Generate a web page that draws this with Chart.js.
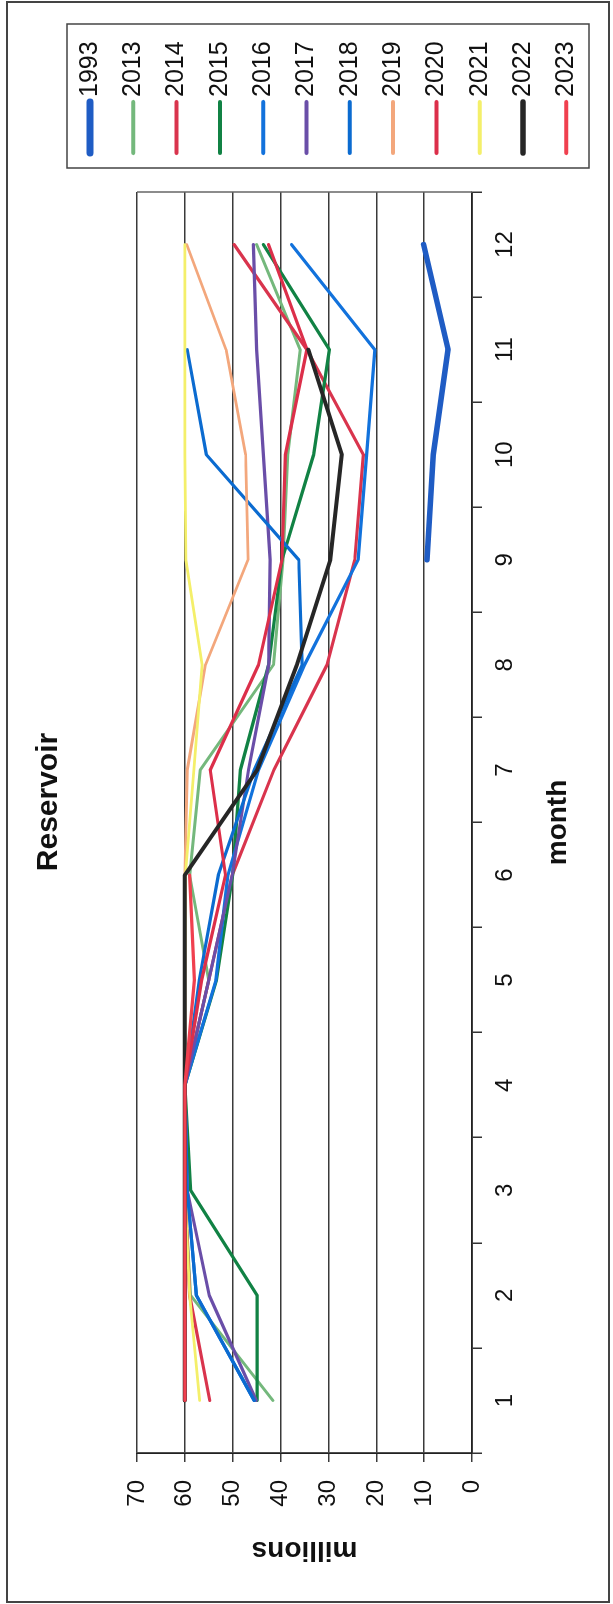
<!DOCTYPE html>
<html>
<head>
<meta charset="utf-8">
<title>Reservoir</title>
<script src="https://cdn.jsdelivr.net/npm/chart.js@4.4.1/dist/chart.umd.min.js"></script>
<style>
    html, body { margin: 0; padding: 0; background: #fff; overflow: hidden; }
    /* the chart is drawn landscape and turned a quarter turn to the left */
    #wrap {
        position: absolute; left: 0; top: 0;
        width: 1604px; height: 613px;
        transform-origin: 0 0;
        transform: translateY(1604px) rotate(-90deg);
    }
    canvas { display: block; }
</style>
</head>
<body>
<div id="wrap"><canvas id="reservoirChart" width="1604" height="613"></canvas></div>
<script>
// data (millions, by month)
const months = ['1', '2', '3', '4', '5', '6', '7', '8', '9', '10', '11', '12'];
const years = ['1993', '2013', '2014', '2015', '2016', '2017', '2018', '2019', '2020', '2021', '2022', '2023'];

const s1993 = [null, null, null, null, null, null, null, null, 9.4, 8.1, 5.0, 10.1];
const s2013 = [41.6, 58.8, 60, 60, 55, 59, 56.8, 41.5, 39.5, 38.5, 35.9, 45];
const s2014 = [54.8, 59, 60, 60, 55, 50.1, 41.4, 30.3, 24.5, 22.7, 34.5, 49.7];
const s2015 = [44.9, 44.9, 58.8, 60, 53.4, 50, 48.4, 42.5, 39.7, 33.1, 29.8, 43.6];
const s2016 = [45.5, 57.6, 59.5, 60, 53.5, 51, 44.6, 35, 23.8, 22, 20.3, 37.7];
const s2017 = [45.1, 54.9, 59.5, 60, 55, 50.1, 46.7, 42.5, 42.2, 43.6, 45, 45.7];
const s2018 = [45.5, 57.6, 59.5, 60, 57, 53, 45.5, 35.5, 36.2, 55.5, 59.5, null];
const s2019 = [60, 60, 60, 60, 60, 60, 59.5, 55.7, 46.8, 47.3, 51.4, 59.6];
const s2020 = [60, 60, 60, 60, 56.5, 51.5, 54.7, 44.6, 39.7, 39, 34.5, 42.5];
const s2021 = [56.9, 59, 60, 60, 60, 59.9, 58.1, 56.4, 59.8, 60, 60, 60];
const s2022 = [60, 60, 60, 60, 60, 60, 44.9, 36.6, 29.6, 27.2, 34.2, null];
const s2023 = [60, 60, 60, 60, 58, 59, null, null, null, null, null, null];

const seriesValues = [s1993, s2013, s2014, s2015, s2016, s2017, s2018, s2019, s2020, s2021, s2022, s2023];

const valueMin = 0;
const valueMax = 70;
const valueStep = 10;

// styles
const lineColors = ['#1f5cc4', '#74b87c', '#d9344d', '#118244', '#1272dc', '#6a4ea8',
                    '#0b6bd0', '#f3a77c', '#dc2f4a', '#f4ef6a', '#262626', '#f0404f'];
const lineWidths = [5.5, 3, 3.2, 3.2, 3.2, 3.2, 3.2, 2.8, 3.2, 2.8, 4, 3.2];
const legendWidths = [7, 4, 4, 4, 4, 4, 4, 4, 4, 4, 5.5, 4];

const FONT = '"Liberation Sans", Arial, sans-serif';
Chart.defaults.font.family = FONT;
Chart.defaults.color = '#111';

// white page, outer frame and the right edge of the plot
const framePlugin = {
    id: 'frame',
    beforeDraw(chart) {
        const ctx = chart.ctx;
        ctx.save();
        ctx.fillStyle = '#fff';
        ctx.fillRect(0, 0, chart.width, chart.height);
        ctx.strokeStyle = '#444';
        ctx.lineWidth = 2;
        ctx.strokeRect(2, 7, chart.width - 4, chart.height - 11);
        ctx.restore();
    },
    beforeDatasetsDraw(chart) {
        const { ctx, chartArea } = chart;
        ctx.save();
        ctx.strokeStyle = '#666';
        ctx.lineWidth = 1.5;
        ctx.beginPath();
        ctx.moveTo(chartArea.right, chartArea.top);
        ctx.lineTo(chartArea.right, chartArea.bottom);
        ctx.stroke();
        ctx.restore();
    }
};

// boxed legend on the right, like the spreadsheet one
const boxLegendPlugin = {
    id: 'boxLegend',
    afterDraw(chart) {
        const ctx = chart.ctx;
        const left = chart.chartArea.right + 24;
        const right = chart.width - 24;
        const top = 67, bottom = 589;
        const first = 90, step = 43.3;
        ctx.save();
        ctx.strokeStyle = '#444';
        ctx.lineWidth = 1.5;
        ctx.strokeRect(left, top, right - left, bottom - top);
        ctx.font = '25px ' + FONT;
        ctx.textAlign = 'left';
        ctx.textBaseline = 'middle';
        chart.data.datasets.forEach((ds, i) => {
            const y = first + step * i;
            ctx.strokeStyle = ds.borderColor;
            ctx.lineWidth = legendWidths[i];
            ctx.lineCap = 'round';
            ctx.beginPath();
            ctx.moveTo(left + 15, y);
            ctx.lineTo(left + 66, y);
            ctx.stroke();
            ctx.fillStyle = '#111';
            ctx.fillText(ds.label, left + 71, y);
        });
        ctx.restore();
    }
};

const datasets = years.map((year, i) => ({
    label: year,
    data: seriesValues[i],
    borderColor: lineColors[i],
    backgroundColor: lineColors[i],
    borderWidth: lineWidths[i],
    pointRadius: 0,
    tension: 0,
    fill: false,
    borderJoinStyle: 'round',
    borderCapStyle: 'round',
    order: years.length - i
}));

new Chart(document.getElementById('reservoirChart'), {
    type: 'line',
    data: { labels: months, datasets },
    options: {
        responsive: false,
        animation: false,
        layout: { padding: 0 },
        plugins: {
            legend: { display: false },
            tooltip: { enabled: false },
            title: {
                display: true,
                text: 'Reservoir',
                color: '#111',
                font: { size: 30, weight: 'bold' },
                padding: { top: 31, bottom: 70 }
            }
        },
        scales: {
            x: {
                type: 'category',
                offset: true,
                grid: {
                    offset: true,
                    drawOnChartArea: false,
                    drawTicks: true,
                    tickLength: 10,
                    color: '#333',
                    lineWidth: 1.5
                },
                border: { display: true, color: '#222', width: 1.8 },
                ticks: { color: '#111', font: { size: 24 }, padding: 9, maxRotation: 0 },
                title: {
                    display: true,
                    text: 'month',
                    color: '#111',
                    font: { size: 28, weight: 'bold' },
                    padding: { top: 0, bottom: 38 }
                },
                afterFit(scale) { scale.height = 141; }
            },
            y: {
                type: 'linear',
                position: 'left',
                min: valueMin,
                max: valueMax,
                grid: { color: '#3a3a3a', lineWidth: 1.5, drawTicks: true, tickLength: 9 },
                border: { display: true, color: '#222', width: 1.8 },
                ticks: { stepSize: valueStep, color: '#111', font: { size: 24 }, padding: 18 },
                title: {
                    display: true,
                    text: 'millions',
                    color: '#111',
                    font: { size: 28, weight: 'bold' },
                    padding: { top: 37, bottom: 0 }
                },
                afterFit(scale) { scale.width = 151; }
            },
            // empty axis that only keeps room for the boxed legend
            legendSpace: {
                type: 'linear',
                axis: 'y',
                position: 'right',
                display: true,
                grid: { display: false },
                border: { display: false },
                ticks: { display: false },
                afterFit(scale) { scale.width = 192; }
            }
        }
    },
    plugins: [framePlugin, boxLegendPlugin]
});
</script>
</body>
</html>
